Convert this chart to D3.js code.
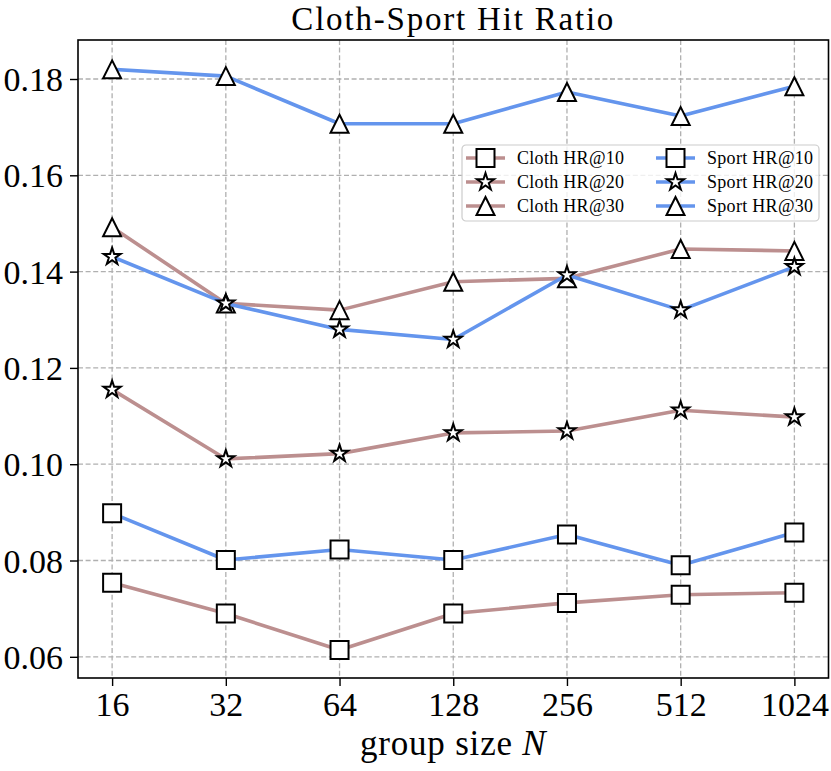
<!DOCTYPE html>
<html>
<head>
<meta charset="utf-8">
<script src="https://cdn.jsdelivr.net/npm/d3@7"></script>
<style>
  html, body { margin: 0; padding: 0; background: #fff; }
  svg { display: block; font-family: "Liberation Serif", "Times New Roman", serif; }
</style>
</head>
<body>
<div id="chart"></div>
<script>
// ── Data ─────────────────────────────────────────────────────────────────
const groupSizes = ["16", "32", "64", "128", "256", "512", "1024"];
const yTicks = [0.06, 0.08, 0.10, 0.12, 0.14, 0.16, 0.18];

const clothHR10 = [0.0754, 0.0690, 0.0614, 0.0690, 0.0712, 0.0729, 0.0733];
const clothHR20 = [0.1155, 0.1011, 0.1022, 0.1065, 0.1069, 0.1112, 0.1098];
const clothHR30 = [0.1492, 0.1334, 0.1320, 0.1379, 0.1386, 0.1447, 0.1443];
const sportHR10 = [0.0898, 0.0801, 0.0823, 0.0801, 0.0854, 0.0790, 0.0858];
const sportHR20 = [0.1431, 0.1334, 0.1280, 0.1259, 0.1393, 0.1320, 0.1410];
const sportHR30 = [0.1820, 0.1806, 0.1707, 0.1707, 0.1773, 0.1723, 0.1785];

const clothColor = "#bc8f8f";
const sportColor = "#6495ed";

const series = [
  { name: "Cloth HR@10", values: clothHR10, color: clothColor, marker: "square" },
  { name: "Cloth HR@20", values: clothHR20, color: clothColor, marker: "star" },
  { name: "Cloth HR@30", values: clothHR30, color: clothColor, marker: "triangle" },
  { name: "Sport HR@10", values: sportHR10, color: sportColor, marker: "square" },
  { name: "Sport HR@20", values: sportHR20, color: sportColor, marker: "star" },
  { name: "Sport HR@30", values: sportHR30, color: sportColor, marker: "triangle" },
];

// ── Marker shapes (matplotlib-like s, *, ^) ──────────────────────────────
function markerPath(type) {
  if (type === "square") {
    const h = 9;
    return `M${-h},${-h}H${h}V${h}H${-h}Z`;
  }
  if (type === "triangle") {
    const h = 9;
    return `M0,${-h}L${h},${h}L${-h},${h}Z`;
  }
  // five-pointed star
  const R = 9, r = R * 0.381966;
  const pts = d3.range(10).map((i) => {
    const a = -Math.PI / 2 + (i * Math.PI) / 5;
    const rad = i % 2 === 0 ? R : r;
    return [rad * Math.cos(a), rad * Math.sin(a)];
  });
  return "M" + pts.map((p) => p.join(",")).join("L") + "Z";
}

// ── Dimensions ───────────────────────────────────────────────────────────
const W = 831, H = 771;
const margin = { top: 40, right: 2.5, bottom: 93, left: 78 };
const width = W - margin.left - margin.right;
const height = H - margin.top - margin.bottom;

const svg = d3.select("#chart").append("svg")
  .attr("width", W).attr("height", H);

const g = svg.append("g")
  .attr("transform", `translate(${margin.left},${margin.top})`);

// ── Scales ───────────────────────────────────────────────────────────────
const x = d3.scalePoint().domain(groupSizes).range([0, width]).padding(0.3);
const y = d3.scaleLinear().domain([0.0556, 0.1881]).range([height, 0]);

// ── Grid ─────────────────────────────────────────────────────────────────
const gridStyle = (sel) => sel
  .attr("stroke", "#b0b0b0").attr("stroke-width", 1.3)
  .attr("stroke-dasharray", "5,2.6");

g.append("g").selectAll("line").data(yTicks).join("line")
  .attr("x1", 0).attr("x2", width)
  .attr("y1", (d) => y(d)).attr("y2", (d) => y(d))
  .call(gridStyle);

g.append("g").selectAll("line").data(groupSizes).join("line")
  .attr("x1", (d) => x(d)).attr("x2", (d) => x(d))
  .attr("y1", 0).attr("y2", height)
  .call(gridStyle);

// ── Axes ─────────────────────────────────────────────────────────────────
const xAxis = g.append("g")
  .attr("transform", `translate(0,${height})`)
  .call(d3.axisBottom(x).tickSize(8).tickPadding(6).tickSizeOuter(0));

const yAxis = g.append("g")
  .call(d3.axisLeft(y).tickValues(yTicks).tickFormat(d3.format(".2f"))
    .tickSize(8).tickPadding(7).tickSizeOuter(0));

[xAxis, yAxis].forEach((a) => {
  a.select(".domain").remove();
  a.selectAll(".tick line").attr("stroke", "#000").attr("stroke-width", 1.4);
  a.selectAll(".tick text")
    .attr("fill", "#000")
    .style("font-family", "'Liberation Serif', serif")
    .style("font-size", "34px");
});
xAxis.selectAll(".tick text").attr("dy", "0.72em");
yAxis.selectAll(".tick text").attr("dy", "0.34em");

// ── Series ───────────────────────────────────────────────────────────────
const line = d3.line()
  .x((d, i) => x(groupSizes[i]))
  .y((d) => y(d));

series.forEach((s) => {
  const sg = g.append("g");
  sg.append("path")
    .datum(s.values)
    .attr("d", line)
    .attr("fill", "none")
    .attr("stroke", s.color)
    .attr("stroke-width", 3.6)
    .attr("stroke-linejoin", "round")
    .attr("stroke-linecap", "square");

  sg.selectAll("path.mk").data(s.values).join("path")
    .attr("class", "mk")
    .attr("transform", (d, i) => `translate(${x(groupSizes[i])},${y(d)})`)
    .attr("d", markerPath(s.marker))
    .attr("fill", "#fff")
    .attr("stroke", "#000")
    .attr("stroke-width", 2)
    .attr("stroke-linejoin", "miter");
});

// ── Frame ────────────────────────────────────────────────────────────────
g.append("rect")
  .attr("width", width).attr("height", height)
  .attr("fill", "none").attr("stroke", "#000").attr("stroke-width", 1.6);

// ── Title & label ────────────────────────────────────────────────────────
svg.append("text")
  .attr("x", margin.left + width / 2).attr("y", 30)
  .attr("text-anchor", "middle")
  .style("font-size", "33px").style("letter-spacing", "1.8px")
  .text("Cloth-Sport Hit Ratio");

const xl = svg.append("text")
  .attr("x", margin.left + width / 2).attr("y", 755)
  .attr("text-anchor", "middle")
  .style("font-size", "35px").style("letter-spacing", "0.8px");
xl.append("tspan").text("group size ");
xl.append("tspan").style("font-style", "italic").text("N");

// ── Legend ───────────────────────────────────────────────────────────────
const legend = svg.append("g").attr("transform", "translate(462,145)");

legend.append("rect")
  .attr("width", 357).attr("height", 76)
  .attr("rx", 4).attr("ry", 4)
  .attr("fill", "#fff").attr("fill-opacity", 0.8)
  .attr("stroke", "#cccccc").attr("stroke-width", 1.2);

series.forEach((s, i) => {
  const col = Math.floor(i / 3), row = i % 3;
  const item = legend.append("g")
    .attr("transform", `translate(${4 + col * 190},${13 + row * 24})`);
  item.append("line")
    .attr("x1", 0).attr("x2", 39)
    .attr("stroke", s.color).attr("stroke-width", 3.6);
  item.append("path")
    .attr("transform", "translate(19.5,0)")
    .attr("d", markerPath(s.marker))
    .attr("fill", "#fff").attr("stroke", "#000").attr("stroke-width", 2);
  item.append("text")
    .attr("x", 51).attr("dy", "0.34em")
    .style("font-size", "18px").style("letter-spacing", "0.3px")
    .text(s.name);
});
</script>
</body>
</html>
